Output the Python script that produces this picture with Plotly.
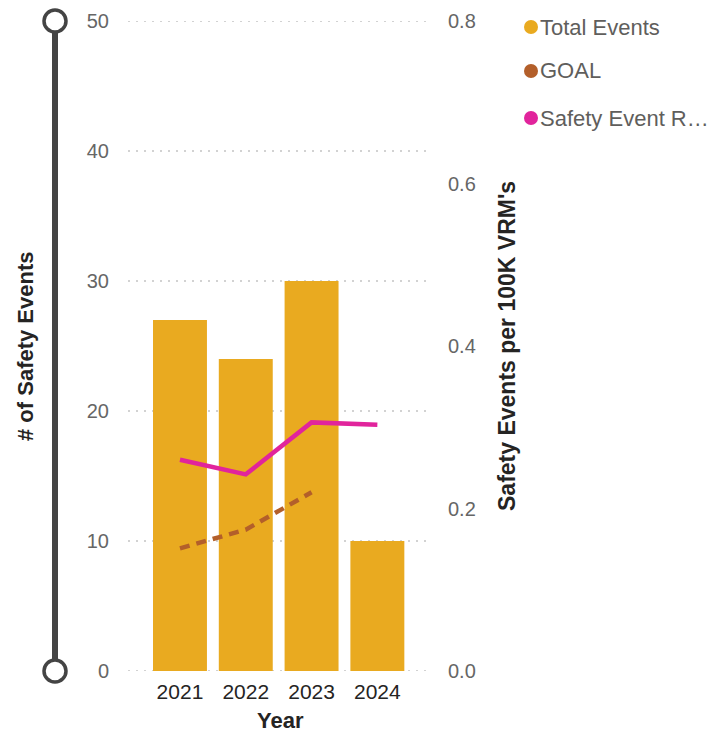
import plotly.graph_objects as go

# Safety events by year
years = ["2021", "2022", "2023", "2024"]
total_events = [27, 24, 30, 10]
goal_rate = [0.151, 0.174, 0.22, None]
event_rate = [0.26, 0.242, 0.306, 0.303]

legend_names = ["Total Events", "GOAL", "Safety Event R\u2026"]
colors = ["#E9AA20", "#B35F2A", "#E1249C"]

left_ticks = [0, 10, 20, 30, 40, 50]
right_ticks = [0.0, 0.2, 0.4, 0.6, 0.8]

FONT = "Liberation Sans"
TICK_GREY = "#666666"
TITLE_DARK = "#252423"

fig = go.Figure()
fig.add_trace(go.Bar(
    x=years, y=total_events, marker=dict(color=colors[0], line=dict(width=0)),
    name=legend_names[0], yaxis="y",
))
fig.add_trace(go.Scatter(
    x=years, y=goal_rate, mode="lines", name=legend_names[1], yaxis="y2",
    line=dict(color=colors[1], width=4.5, dash="10px,7px"),
))
fig.add_trace(go.Scatter(
    x=years, y=event_rate, mode="lines", name=legend_names[2], yaxis="y2",
    line=dict(color=colors[2], width=4.5),
))

W, H = 714, 733
L, R, T, B = 128, 284, 21, 62
pw, ph = W - L - R, H - T - B


def px_x(px):
    return (px - L) / pw


def px_y(py):
    return (H - B - py) / ph


shapes = []
# dotted horizontal gridlines, including both range ends
for v in left_ticks:
    shapes.append(dict(
        type="line", xref="paper", yref="y", x0=0, x1=1, y0=v, y1=v,
        line=dict(color="#C4C4C4", width=1.5, dash="2px,6px"), layer="below",
    ))

# range slider track on the left
shapes.append(dict(
    type="line", xref="paper", yref="paper", x0=px_x(55), x1=px_x(55),
    y0=0, y1=1, line=dict(color="#444444", width=6), layer="above",
))
for yy in (0, 1):
    shapes.append(dict(
        type="circle", xref="paper", yref="paper", xsizemode="pixel", ysizemode="pixel",
        xanchor=px_x(55), yanchor=yy, x0=-11, x1=11, y0=-11, y1=11,
        fillcolor="white", line=dict(color="#444444", width=3.5), layer="above",
    ))

annotations = [
    dict(text="<b># of Safety Events</b>", xref="paper", yref="paper",
         x=px_x(25), y=0.5, xanchor="center", yanchor="middle",
         textangle=-90, showarrow=False,
         font=dict(family=FONT, size=22, color=TITLE_DARK)),
    dict(text="<b>Safety Events per 100K VRM's</b>", xref="paper", yref="paper",
         x=px_x(507), y=0.5, xanchor="center", yanchor="middle",
         textangle=-90, showarrow=False,
         font=dict(family=FONT, size=23, color=TITLE_DARK)),
    dict(text="<b>Year</b>", xref="paper", yref="paper",
         x=px_x(280), y=px_y(720), xanchor="center", yanchor="middle",
         showarrow=False,
         font=dict(family=FONT, size=22, color=TITLE_DARK)),
]

# legend drawn as dots plus labels
legend_y = [27, 71, 118]
for name, col, ly in zip(legend_names, colors, legend_y):
    shapes.append(dict(
        type="circle", xref="paper", yref="paper", xsizemode="pixel", ysizemode="pixel",
        xanchor=px_x(531), yanchor=px_y(ly), x0=-7, x1=7, y0=-7, y1=7,
        fillcolor=col, line=dict(width=0),
    ))
    annotations.append(dict(
        text=name, xref="paper", yref="paper", x=px_x(538), y=px_y(ly),
        xanchor="left", yanchor="middle", showarrow=False,
        font=dict(family=FONT, size=22, color="#605E5C"),
    ))

fig.update_layout(
    width=W, height=H,
    margin=dict(l=L, r=R, t=T, b=B, autoexpand=False),
    paper_bgcolor="white", plot_bgcolor="white",
    showlegend=False,
    bargap=0.18,
    shapes=shapes, annotations=annotations,
    xaxis=dict(
        type="category", range=[-0.79, 3.8], showgrid=False, zeroline=False,
        showline=False, ticks="", ticklabelstandoff=6,
        tickfont=dict(family=FONT, size=21, color=TITLE_DARK),
    ),
    yaxis=dict(
        range=[0, 50], tickvals=left_ticks, showline=False, zeroline=False,
        showgrid=False, ticklabelstandoff=18,
        tickfont=dict(family=FONT, size=20, color=TICK_GREY),
    ),
    yaxis2=dict(
        range=[0, 0.8], tickvals=right_ticks, tickformat=".1f", overlaying="y",
        side="right", showgrid=False, zeroline=False, showline=False,
        ticklabelstandoff=17, tickfont=dict(family=FONT, size=20, color=TICK_GREY),
    ),
)

fig.write_html("out.html", config={"displayModeBar": False})
